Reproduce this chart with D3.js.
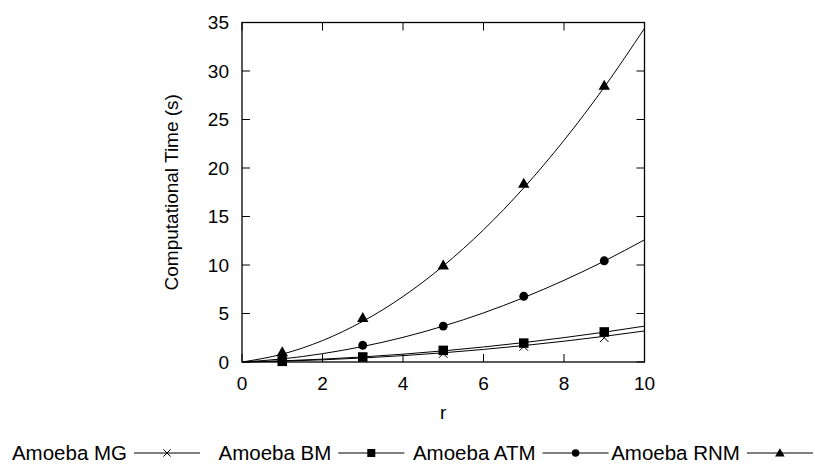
<!DOCTYPE html>
<html><head><meta charset="utf-8">
<script src="https://cdn.jsdelivr.net/npm/d3@7"></script>
<style>
html,body{margin:0;padding:0;background:#fff;}
svg text{font-family:"Liberation Sans",Arial,Helvetica,sans-serif;fill:#000;}
</style></head>
<body><svg id="c" width="815" height="464"></svg>
<script>
// ---- data ----
const rValues = [1, 3, 5, 7, 9];
const amoebaMG  = [0.1, 0.4, 0.87, 1.6, 2.5];
const amoebaBM  = [0.07, 0.52, 1.2, 1.95, 3.1];
const amoebaATM = [0.35, 1.72, 3.7, 6.77, 10.43];
const amoebaRNM = [1.03, 4.56, 9.97, 18.4, 28.5];
// fitted curves as drawn, sampled at r = 0..10
const curveR = [0,1,2,3,4,5,6,7,8,9,10];
const fitMG  = [0, 0.086, 0.224, 0.414, 0.656, 0.95, 1.296, 1.694, 2.144, 2.646, 3.2];
const fitBM  = [0, 0.118, 0.292, 0.522, 0.808, 1.15, 1.548, 2.002, 2.512, 3.078, 3.7];
const fitATM = [0, 0.32, 0.86, 1.60, 2.54, 3.70, 5.06, 6.64, 8.42, 10.40, 12.60];
const fitRNM = [0, 0.81, 2.21, 4.19, 6.75, 9.90, 13.63, 17.95, 22.85, 28.33, 34.40];
const xTicks = [0, 2, 4, 6, 8, 10];
const yTicks = [0, 5, 10, 15, 20, 25, 30, 35];
const seriesNames = ["Amoeba MG", "Amoeba BM", "Amoeba ATM", "Amoeba RNM"];
const seriesMarkers = ["cross", "square", "circle", "triangle"];

const series = [
  {name: seriesNames[0], marker: seriesMarkers[0], pts: amoebaMG,  fit: fitMG},
  {name: seriesNames[1], marker: seriesMarkers[1], pts: amoebaBM,  fit: fitBM},
  {name: seriesNames[2], marker: seriesMarkers[2], pts: amoebaATM, fit: fitATM},
  {name: seriesNames[3], marker: seriesMarkers[3], pts: amoebaRNM, fit: fitRNM}
];

const svg = d3.select("#c");
const L = 242, R = 644.5, T = 22.5, B = 362;
const x = d3.scaleLinear().domain([0, 10]).range([L, R]);
const y = d3.scaleLinear().domain([0, 35]).range([B, T]);
const FS = 19;

// frame
svg.append("rect").attr("x", L).attr("y", T).attr("width", R - L).attr("height", B - T)
  .attr("fill", "none").attr("stroke", "#000").attr("stroke-width", 1.3);

const tl = 8;
const gx = svg.append("g");
xTicks.forEach(v => {
  const px = x(v);
  gx.append("line").attr("x1", px).attr("x2", px).attr("y1", B).attr("y2", B - tl).attr("stroke", "#000");
  gx.append("line").attr("x1", px).attr("x2", px).attr("y1", T).attr("y2", T + tl).attr("stroke", "#000");
  gx.append("text").attr("x", px).attr("y", B + 21).attr("dy", "0.35em").attr("text-anchor", "middle")
    .attr("font-size", FS).text(v);
});
const gy = svg.append("g");
yTicks.forEach(v => {
  const py = y(v);
  gy.append("line").attr("x1", L).attr("x2", L + tl).attr("y1", py).attr("y2", py).attr("stroke", "#000");
  gy.append("line").attr("x1", R).attr("x2", R - tl).attr("y1", py).attr("y2", py).attr("stroke", "#000");
  gy.append("text").attr("x", L - 13).attr("y", py).attr("dy", "0.35em").attr("text-anchor", "end")
    .attr("font-size", FS).text(v);
});

svg.append("text").attr("x", (L + R) / 2).attr("y", 412).attr("dy", "0.35em").attr("text-anchor", "middle")
  .attr("font-size", FS).text("r");
svg.append("text").attr("transform", `translate(171,${(T + B) / 2}) rotate(-90)`).attr("dy", "0.35em")
  .attr("text-anchor", "middle").attr("font-size", FS).text("Computational Time (s)");

function marker(g, type, cx, cy, s) {
  if (type === "cross") {
    const h = s * 0.45;
    g.append("path").attr("d", `M${cx-h},${cy-h}L${cx+h},${cy+h}M${cx-h},${cy+h}L${cx+h},${cy-h}`)
      .attr("stroke", "#000").attr("stroke-width", 1).attr("fill", "none");
  } else if (type === "square") {
    const h = s * 0.5;
    g.append("rect").attr("x", cx - h).attr("y", cy - h).attr("width", 2 * h).attr("height", 2 * h).attr("fill", "#000");
  } else if (type === "circle") {
    g.append("circle").attr("cx", cx).attr("cy", cy).attr("r", s * 0.47).attr("fill", "#000");
  } else if (type === "triangle") {
    const h = s * 0.6;
    g.append("path").attr("d", `M${cx},${cy-h}L${cx+h},${cy+h*0.75}L${cx-h},${cy+h*0.75}Z`).attr("fill", "#000");
  }
}

const line = d3.line().x(d => x(d[0])).y(d => y(d[1])).curve(d3.curveMonotoneX);
const plot = svg.append("g");
series.forEach(s => {
  plot.append("path").datum(curveR.map((r, i) => [r, s.fit[i]]))
    .attr("d", line).attr("fill", "none").attr("stroke", "#000").attr("stroke-width", 1);
});
series.forEach(s => {
  const g = plot.append("g");
  rValues.forEach((r, i) => marker(g, s.marker, x(r), y(s.pts[i]), 9.5));
});

// legend
const legY = 453;
const colW = 204.3, lineStart0 = 134, lineLen = 66;
series.forEach((s, i) => {
  const ls = lineStart0 + i * colW;
  svg.append("text").attr("x", ls - 7).attr("y", legY).attr("dy", "0.35em").attr("text-anchor", "end")
    .attr("font-size", 20.5).text(s.name);
  svg.append("line").attr("x1", ls).attr("x2", ls + lineLen).attr("y1", legY).attr("y2", legY)
    .attr("stroke", "#000").attr("stroke-width", 1);
  marker(svg.append("g"), s.marker, ls + lineLen / 2, legY, 8);
});
</script></body></html>
